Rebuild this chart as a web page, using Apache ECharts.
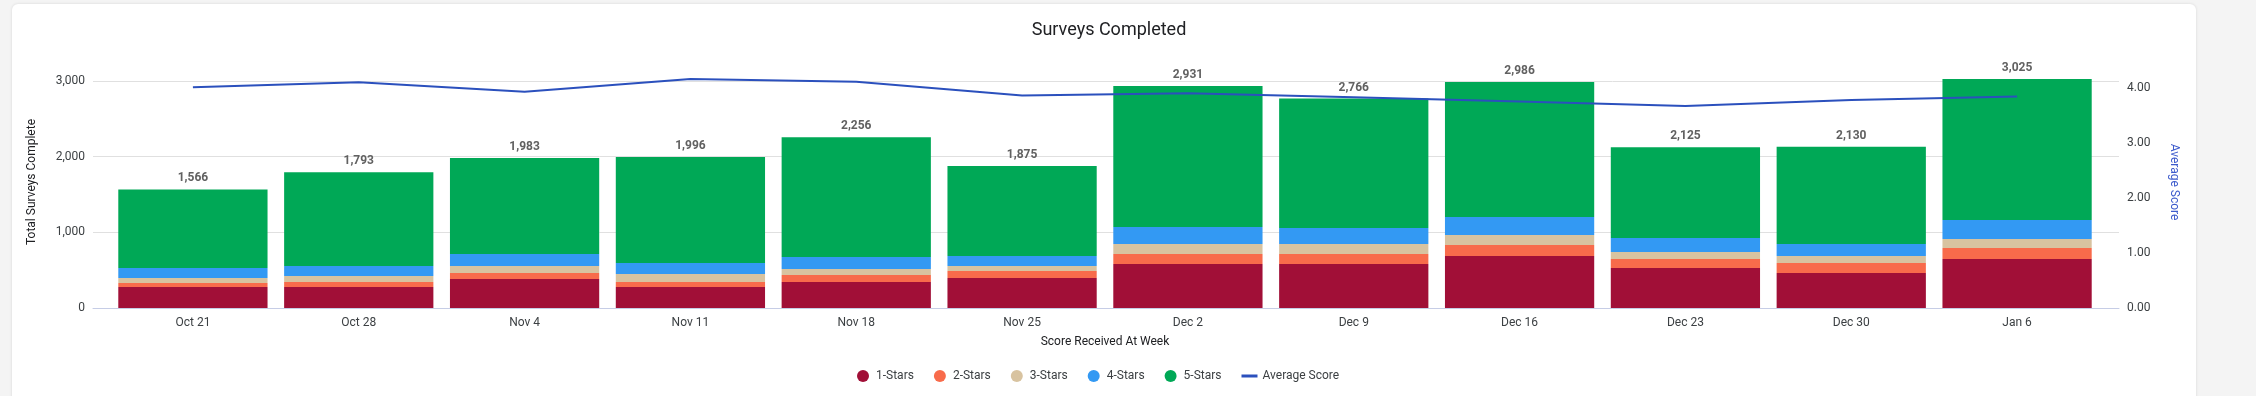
<!DOCTYPE html>
<html>
<head>
<meta charset="utf-8">
<script src="https://cdn.jsdelivr.net/npm/echarts@6/dist/echarts.min.js"></script>
<style>
  html, body { margin: 0; padding: 0; background: #f4f4f4; width: 2256px; height: 396px; overflow: hidden; }
  #card { position: absolute; left: 12px; top: 4px; width: 2184px; height: 420px; background: #ffffff; border-radius: 6px; box-shadow: 0 0 3px rgba(0,0,0,0.12); }
  #chart { position: absolute; left: 0; top: 0; width: 2256px; height: 396px; }
</style>
</head>
<body>
<div id="card"></div>
<div id="chart"></div>
<script>
const categories = ['Oct 21','Oct 28','Nov 4','Nov 11','Nov 18','Nov 25','Dec 2','Dec 9','Dec 16','Dec 23','Dec 30','Jan 6'];
const stars1 = [278, 278, 383, 278, 344, 397, 582, 582, 687, 529, 463, 648];
const stars2 = [53, 66, 79, 66, 92, 92, 132, 132, 146, 119, 132, 145];
const stars3 = [66, 79, 93, 106, 79, 66, 132, 132, 132, 92, 92, 119];
const stars4 = [132, 132, 159, 145, 159, 132, 225, 211, 238, 185, 159, 251];
const stars5 = [1037, 1238, 1269, 1401, 1582, 1188, 1860, 1709, 1783, 1200, 1284, 1862];
const avgScore = [4.01, 4.10, 3.93, 4.16, 4.11, 3.86, 3.90, 3.83, 3.75, 3.67, 3.78, 3.84];
const leftInterval = 1000;
const rightInterval = 1;

const seriesNames = ['1-Stars','2-Stars','3-Stars','4-Stars','5-Stars'];
const seriesData = [stars1, stars2, stars3, stars4, stars5];
const colors = ['#a10f37', '#f86b4b', '#d8c3a0', '#3399f3', '#00a856'];
const lineColor = '#2b50bd';

const totals = categories.map((_, i) => seriesData.reduce((s, arr) => s + arr[i], 0));
const leftMax = Math.max(...totals);
const rightMax = Math.max(...avgScore);

const font = 'Roboto, "Noto Sans", sans-serif';
const chart = echarts.init(document.getElementById('chart'), null, { renderer: 'canvas' });

const barSeries = seriesNames.map((name, k) => ({
  name,
  type: 'bar',
  stack: 'total',
  xAxisIndex: 0,
  yAxisIndex: 2,
  barCategoryGap: '10%',
  itemStyle: { color: colors[k] },
  data: seriesData[k],
  z: 2,
  label: k === 4 ? {
    show: true,
    position: 'top',
    distance: 5,
    fontFamily: font,
    fontSize: 12,
    fontWeight: 'bold',
    color: '#616161',
    formatter: p => totals[p.dataIndex].toLocaleString('en-US')
  } : { show: false }
}));

chart.setOption({
  backgroundColor: 'transparent',
  animation: false,
  title: {
    text: 'Surveys Completed',
    left: 1104,
    textAlign: 'center',
    top: 16,
    textStyle: { fontFamily: font, fontSize: 18, fontWeight: 'normal', color: '#202124' }
  },
  legend: {
    top: 365,
    left: 852,
    itemWidth: 16,
    itemHeight: 12,
    itemGap: 20,
    textStyle: { fontFamily: font, fontSize: 12, color: '#3c4043' },
    data: [
      { name: '1-Stars', icon: 'circle' },
      { name: '2-Stars', icon: 'circle' },
      { name: '3-Stars', icon: 'circle' },
      { name: '4-Stars', icon: 'circle' },
      { name: '5-Stars', icon: 'circle' },
      { name: 'Average Score', icon: 'path://M0,0L16,0L16,3L0,3Z' }
    ]
  },
  grid: [
    { left: 110, right: 156, top: 79, bottom: 88 },
    { left: 93, right: 137, top: 79, bottom: 88 }
  ],
  xAxis: [
    {
      type: 'category',
      gridIndex: 0,
      data: categories,
      axisLine: { show: false },
      axisTick: { show: false },
      axisLabel: { fontFamily: font, fontSize: 12, color: '#3c4043', margin: 9 },
      name: 'Score Received At Week',
      nameLocation: 'middle',
      nameGap: 28,
      nameTextStyle: { fontFamily: font, fontSize: 12, color: '#202124' }
    },
    {
      type: 'value',
      gridIndex: 1,
      min: 0,
      max: 1,
      axisLine: { show: true, lineStyle: { color: '#c6cde6', width: 1 } },
      axisTick: { show: false },
      axisLabel: { show: false },
      splitLine: { show: false }
    }
  ],
  yAxis: [
    {
      type: 'value',
      gridIndex: 1,
      position: 'left',
      min: 0,
      max: leftMax,
      interval: leftInterval,
      axisLine: { show: false },
      axisTick: { show: false },
      axisLabel: {
        fontFamily: font, fontSize: 12, color: '#3c4043', margin: 8, showMaxLabel: false,
        formatter: v => v % leftInterval === 0 ? v.toLocaleString('en-US') : ''
      },
      splitLine: { show: true, showMaxLine: false, lineStyle: { color: '#e0e0e0', width: 1 } },
      name: 'Total Surveys Complete',
      nameLocation: 'middle',
      nameRotate: 90,
      nameGap: 55,
      nameTextStyle: { fontFamily: font, fontSize: 12, color: '#202124', padding: [0, 0, 0, 23] }
    },
    {
      type: 'value',
      gridIndex: 1,
      position: 'right',
      min: 0,
      max: rightMax,
      interval: rightInterval,
      axisLine: { show: false },
      axisTick: { show: false },
      axisLabel: {
        fontFamily: font, fontSize: 12, color: '#3c4043', margin: 8, showMaxLabel: false,
        formatter: v => (Math.abs(v - Math.round(v)) < 1e-9) ? v.toFixed(2) : ''
      },
      splitLine: { show: false },
      name: 'Average Score',
      nameLocation: 'middle',
      nameRotate: -90,
      nameGap: 49,
      nameTextStyle: { fontFamily: font, fontSize: 12, color: '#3d5bcc', padding: [0, 23, 0, 0] }
    },
    { type: 'value', gridIndex: 0, show: false, min: 0, max: leftMax, splitLine: { show: false } },
    { type: 'value', gridIndex: 0, show: false, min: 0, max: rightMax, splitLine: { show: false } }
  ],
  series: [
    ...barSeries,
    {
      name: 'Average Score',
      type: 'line',
      xAxisIndex: 0,
      yAxisIndex: 3,
      data: avgScore,
      symbol: 'none',
      showSymbol: false,
      itemStyle: { color: lineColor },
      lineStyle: { color: lineColor, width: 2 },
      z: 5
    }
  ]
});
</script>
</body>
</html>
